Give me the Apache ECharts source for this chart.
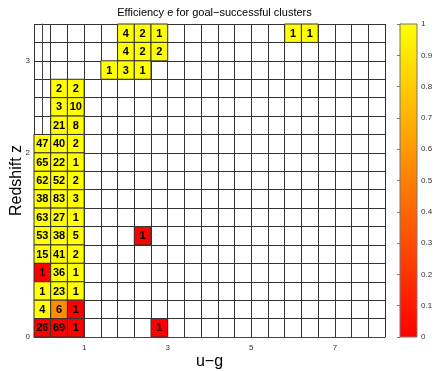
<!DOCTYPE html>
<html>
<head>
<meta charset="utf-8">
<script src="https://cdn.jsdelivr.net/npm/echarts@6/dist/echarts.min.js"></script>
<style>
  html, body { margin: 0; padding: 0; background: #fff; }
  #main { width: 436px; height: 371px; }
</style>
</head>
<body>
<div id="main"></div>
<script>
// 每个格子: u-g 中心, z 中心, 效率 e, 星团数
const cellU = [2.0, 2.4, 2.8, 6.0, 6.4,
  2.0, 2.4, 2.8,
  1.6, 2.0, 2.4,
  0.4, 0.8,
  0.4, 0.8,
  0.4, 0.8,
  0.0, 0.4, 0.8,
  0.0, 0.4, 0.8,
  0.0, 0.4, 0.8,
  0.0, 0.4, 0.8,
  0.0, 0.4, 0.8,
  0.0, 0.4, 0.8, 2.4,
  0.0, 0.4, 0.8,
  0.0, 0.4, 0.8,
  0.0, 0.4, 0.8,
  0.0, 0.4, 0.8,
  0.0, 0.4, 0.8, 2.8]
const cellZ = [3.3, 3.3, 3.3, 3.3, 3.3,
  3.1, 3.1, 3.1,
  2.9, 2.9, 2.9,
  2.7, 2.7,
  2.5, 2.5,
  2.3, 2.3,
  2.1, 2.1, 2.1,
  1.9, 1.9, 1.9,
  1.7, 1.7, 1.7,
  1.5, 1.5, 1.5,
  1.3, 1.3, 1.3,
  1.1, 1.1, 1.1, 1.1,
  0.9, 0.9, 0.9,
  0.7, 0.7, 0.7,
  0.5, 0.5, 0.5,
  0.3, 0.3, 0.3,
  0.1, 0.1, 0.1, 0.1]
const cellEff = [1, 1, 1, 1, 1,
  1, 1, 1,
  1, 1, 1,
  1, 1,
  1, 1,
  1, 1,
  1, 1, 1,
  1, 1, 1,
  1, 1, 1,
  1, 1, 1,
  1, 1, 1,
  1, 1, 1, 0,
  1, 1, 1,
  0, 1, 1,
  1, 1, 1,
  1, 0.55, 0,
  0, 0, 0, 0]
const cellCount = [4, 2, 1, 1, 1,
  4, 2, 2,
  1, 3, 1,
  2, 2,
  3, 10,
  21, 8,
  47, 40, 2,
  65, 22, 1,
  62, 52, 2,
  38, 83, 3,
  63, 27, 1,
  53, 38, 5, 1,
  15, 41, 2,
  1, 36, 1,
  1, 23, 1,
  4, 6, 1,
  26, 69, 1, 1]

const xTickLabels = [1, 3, 5, 7]
const yTickLabels = [0, 2, 3]
const cbarTicks = [0, 0.1, 0.2, 0.3, 0.4, 0.5, 0.6, 0.7, 0.8, 0.9, 1]

const cellW = 0.4
const cellH = 0.2

let cells = []
for (let i = 0; i < cellU.length; i++) {
  cells.push([cellU[i], cellZ[i], cellEff[i], cellCount[i]])
}

function near(v, list) {
  for (let t of list) {
    if (Math.abs(v - t) < 1e-6) return true
  }
  return false
}

let option = {
  animation: false,
  backgroundColor: '#fff',
  title: {
    text: 'Efficiency e for goal\u2212successful clusters',
    left: 209.5,
    textAlign: 'center',
    top: 2,
    textStyle: { fontFamily: 'Liberation Sans', fontSize: 11, fontWeight: 'normal', color: '#000' }
  },
  grid: [
    { left: 34, top: 24, width: 351, height: 313, containLabel: false, outerBoundsMode: 'none' },
    { left: 400, top: 24, width: 17, height: 313, containLabel: false, outerBoundsMode: 'none' }
  ],
  visualMap: {
    show: false,
    seriesIndex: 0,
    dimension: 2,
    min: 0,
    max: 1,
    inRange: { color: ['#ff0000', '#ffff00'] }
  },
  xAxis: [
    {
      gridIndex: 0,
      type: 'value',
      min: -0.2,
      max: 8.2,
      interval: 0.4,
      name: 'u\u2212g',
      nameLocation: 'middle',
      nameMoveOverlap: false,
      nameGap: 17,
      nameTextStyle: { fontFamily: 'Liberation Sans', fontSize: 16, color: '#000' },
      axisLine: { show: true, lineStyle: { color: '#444' } },
      axisTick: { show: false },
      axisLabel: {
        fontFamily: 'Liberation Sans', fontSize: 8, color: '#333', margin: 7,
        formatter: function (v) { return near(v, xTickLabels) ? String(Math.round(v)) : '' }
      },
      splitLine: { show: true, lineStyle: { color: '#333', width: 1 } }
    },
    {
      gridIndex: 1,
      type: 'value',
      min: 0,
      max: 1,
      show: false
    }
  ],
  yAxis: [
    {
      gridIndex: 0,
      type: 'value',
      min: 0,
      max: 3.4,
      interval: 0.2,
      name: 'Redshift z',
      nameLocation: 'middle',
      nameMoveOverlap: false,
      nameGap: 9,
      nameRotate: 90,
      nameTextStyle: { fontFamily: 'Liberation Sans', fontSize: 16, color: '#000' },
      axisLine: { show: true, lineStyle: { color: '#444' } },
      axisTick: { show: false },
      axisLabel: {
        fontFamily: 'Liberation Sans', fontSize: 8, color: '#333', margin: 4,
        formatter: function (v) { return near(v, yTickLabels) ? String(Math.round(v)) : '' }
      },
      splitLine: { show: true, lineStyle: { color: '#333', width: 1 } }
    },
    {
      gridIndex: 1,
      type: 'value',
      min: 0,
      max: 1,
      interval: 0.1,
      position: 'right',
      axisLine: { show: true, lineStyle: { color: '#777' } },
      axisTick: { show: true, inside: true, length: 3, lineStyle: { color: '#777' } },
      axisLabel: {
        fontFamily: 'Liberation Sans', fontSize: 8, color: '#333', margin: 4,
        formatter: function (v) { return near(v, cbarTicks) ? String(Math.round(v * 10) / 10) : '' }
      },
      splitLine: { show: false }
    }
  ],
  series: [
    {
      // 效率格子
      type: 'custom',
      xAxisIndex: 0,
      yAxisIndex: 0,
      data: cells,
      encode: { x: 0, y: 1 },
      z: 1,
      renderItem: function (params, api) {
        let u = api.value(0)
        let z = api.value(1)
        let p0 = api.coord([u - cellW / 2, z + cellH / 2])
        let p1 = api.coord([u + cellW / 2, z - cellH / 2])
        return {
          type: 'group',
          children: [
            {
              type: 'rect',
              shape: { x: p0[0], y: p0[1], width: p1[0] - p0[0], height: p1[1] - p0[1] },
              style: { fill: api.visual('color'), stroke: '#333', lineWidth: 1 }
            },
            {
              type: 'text',
              x: (p0[0] + p1[0]) / 2,
              y: (p0[1] + p1[1]) / 2 + 0.5,
              style: {
                text: String(api.value(3)),
                fill: '#000',
                font: 'bold 11px "Liberation Sans"',
                align: 'center',
                verticalAlign: 'middle'
              }
            }
          ]
        }
      }
    },
    {
      // 色标
      type: 'custom',
      xAxisIndex: 1,
      yAxisIndex: 1,
      data: [[0, 0]],
      renderItem: function (params, api) {
        let p0 = api.coord([0, 1])
        let p1 = api.coord([1, 0])
        return {
          type: 'rect',
          shape: { x: p0[0], y: p0[1], width: p1[0] - p0[0], height: p1[1] - p0[1] },
          style: {
            fill: new echarts.graphic.LinearGradient(0, 0, 0, 1, [
              { offset: 0, color: '#ffff00' },
              { offset: 1, color: '#ff0000' }
            ]),
            stroke: '#777',
            lineWidth: 1
          }
        }
      }
    }
  ]
}

let myChart = echarts.init(document.getElementById('main'))
myChart.setOption(option)
</script>
</body>
</html>
